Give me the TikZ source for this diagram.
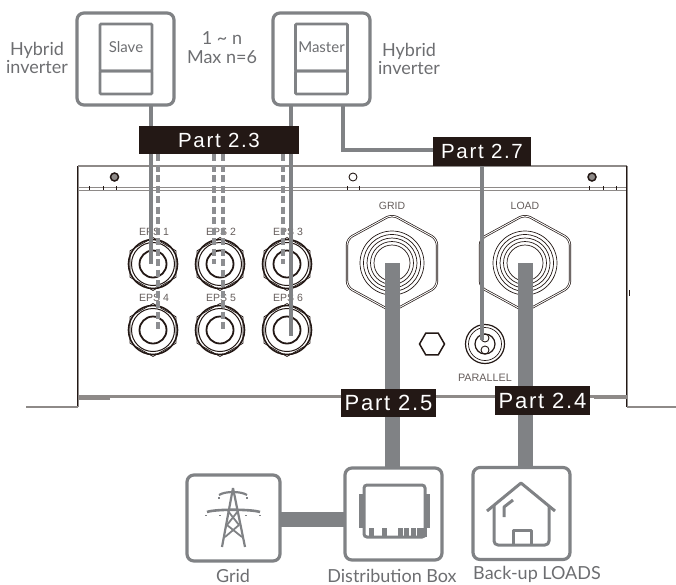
\documentclass[tikz,border=0pt]{standalone}
\usepackage{fontspec}
\setmainfont{Lato}
\newfontfamily\partfont[LetterSpace=8]{Liberation Sans}
\newfontfamily\panelfont{Liberation Sans}
\usepackage{xcolor}
\usepackage{tikz}
\usetikzlibrary{shapes.geometric,positioning,calc}
\definecolor{cablegray}{HTML}{808285}
\definecolor{textgray}{HTML}{6D6E71}
\definecolor{partblack}{HTML}{231815}
\definecolor{panelgray}{HTML}{8E8A88}
\begin{document}
\begin{tikzpicture}[
        x=1pt, y=-1pt,
        unitbox/.style={draw=cablegray, line width=3.2pt, rounded corners=7pt, inner sep=0pt, outer sep=0pt, minimum width=97pt, minimum height=92pt},
        screenbox/.style={draw=cablegray, line width=2.8pt, rounded corners=1pt, inner sep=0pt, outer sep=0pt, minimum width=52pt, text=textgray, font=\fontsize{15}{18}\selectfont},
        caption/.style={text=textgray, align=center, inner sep=0pt, font=\fontsize{18}{18}\selectfont},
        partlabel/.style={fill=partblack, text=white, inner sep=0pt, outer sep=0pt, font=\partfont\fontsize{20.5}{24}\selectfont},
        panellabel/.style={text=partblack!70, inner sep=0pt, font=\panelfont\fontsize{10.5}{12}\selectfont},
        wire/.style={draw=cablegray, line width=3.8pt},
        dashwire/.style={draw=cablegray!90, line width=3.6pt, dash pattern=on 7pt off 3.5pt},
        thinwire/.style={draw=cablegray, line width=3.4pt},
        power/.style={draw=cablegray, line width=15pt},
        frame/.style={draw=partblack, line width=0.7pt, double=panelgray, double distance=0.9pt},
        edge/.style={draw=panelgray, line width=2.5pt},
        ring/.style={draw=partblack, line width=0.7pt},
        iconline/.style={draw=cablegray, line width=3pt, line join=round},
        eps/.style={circle, draw=partblack, line width=1.6pt, minimum size=49pt, inner sep=0pt}
    ]
        \useasboundingbox (0,0) rectangle (676,584);

        % Metal enclosure
        \draw[edge] (78,166) -- (627,166);
        \draw[edge, line width=1.8pt] (78,187.5) -- (627,187.5);
        \draw[draw=panelgray, line width=1pt] (78,190.5) -- (627,190.5);
        \draw[frame] (78,166) -- (78,407);
        \draw[frame] (627,166) -- (627,407);
        \draw[edge] (78,396.5) -- (627,396.5);
        \draw[edge] (78,398.5) -- (110,398.5);
        \draw[edge] (594,398) -- (627,398);
        \draw[edge] (26,407) -- (78,407);
        \draw[edge] (627,407) -- (676,407);
        \draw[draw=partblack, line width=1.2pt] (629.5,290) -- (629.5,296);
        \foreach \xtick in {89,103,116,347,359,589,603,616}
            \draw[draw=partblack, line width=0.7pt] (\xtick,186) -- (\xtick,190);

        % Screws on the top strip
        \node[circle, draw=partblack, fill=panelgray, line width=1.5pt, minimum size=8pt, inner sep=0pt] (screwa) at (114.5,177) {};
        \node[circle, draw=partblack, line width=0.9pt, minimum size=8pt, inner sep=0pt] (screwb) at (353,177) {};
        \node[circle, draw=partblack, fill=panelgray, line width=1.5pt, minimum size=8pt, inner sep=0pt] (screwc) at (592,177) {};

        % EPS glands
        \foreach \n/\xpos/\ypos in {1/153/264, 2/220/264, 3/287/264, 4/153/330, 5/220/330, 6/287/330} {
            \node[eps] (eps\n) at (\xpos,\ypos) {};
            \draw[ring, line width=1pt] (eps\n) circle (21.5pt);
            \draw[ring, line width=1.8pt] (eps\n) circle (13.5pt);
            \node[regular polygon, regular polygon sides=6, shape border rotate=30, ring, minimum size=53pt, inner sep=0pt] (epsnut\n) at (\xpos,\ypos) {};
            \node[panellabel] (epslabel\n) at (\xpos+1,\ypos-32) {EPS \n};
        }

        % AC glands
        \foreach \name/\xpos/\tag in {grid/392/GRID, load/525/LOAD} {
            \node[circle, ring, minimum size=64pt, inner sep=0pt] (\name) at (\xpos,263) {};
            \foreach \r in {28.5,25,21.5,18}
                \draw[ring] (\name) circle (\r pt);
            \draw[ring, double=white, double distance=0.9pt, rounded corners=6pt]
                ([shift={(0,-48.5)}]\name.center) -- ([shift={(45,-24)}]\name.center) -- ([shift={(45,24)}]\name.center)
                -- ([shift={(0,48.5)}]\name.center) -- ([shift={(-45,24)}]\name.center) -- ([shift={(-45,-24)}]\name.center) -- cycle;
            \node[panellabel] (\name label) at (\xpos,206) {\tag};
        }

        % Plug and parallel port
        \node[regular polygon, regular polygon sides=6, draw=partblack, line width=1.5pt, minimum size=25pt, inner sep=0pt] (plug) at (432,344) {};
        \node[circle, draw=partblack, line width=1.2pt, minimum size=39pt, inner sep=0pt] (parallel) at (485,344) {};
        \draw[ring] (parallel) circle (16.5pt);
        \draw[ring, line width=1.2pt] (parallel) circle (10pt);
        \node[circle, ring, line width=0.9pt, minimum size=8pt, inner sep=0pt] (parporta) at (485,338) {};
        \node[circle, ring, line width=0.9pt, minimum size=8pt, inner sep=0pt] (parportb) at (485,350) {};
        \node[panellabel, font=\panelfont\fontsize{10.8}{12}\selectfont] (parallellabel) at (485,378) {PARALLEL};

        % Inverters
        \node[unitbox] (slave) at (125.5,59) {};
        \node[screenbox, minimum height=47pt] (slavetop) at (126,47.5) {Slave};
        \node[screenbox, minimum height=23pt] (slavebottom) [below=0pt of slavetop] {};
        \node[unitbox] (master) at (321.5,59) {};
        \node[screenbox, minimum height=47pt] (mastertop) at (321.5,47.5) {Master};
        \node[screenbox, minimum height=23pt] (masterbottom) [below=0pt of mastertop] {};
        \node[caption] (slavecap) at (37,58) {Hybrid\\inverter};
        \node[caption] (mastercap) at (409,59) {Hybrid\\inverter};
        \node[caption, font=\fontsize{18}{19}\selectfont] (count) at (222,47.5) {1 \textasciitilde{} n\\Max n=6};

        % Bottom boxes
        \node[unitbox, minimum width=93pt, minimum height=86pt] (gridbox) at (233.5,518) {};
        \node[unitbox, minimum height=92pt] (distbox) at (393.5,514) {};
        \node[unitbox, minimum height=92pt] (loadbox) at (521.5,513.5) {};
        \node[caption] (gridcap) at (233,576) {Grid};
        \node[caption] (distcap) at (392,576) {Distribution Box};
        \node[caption] (loadcap) at (537,574) {Back-up LOADS};

        % Tower icon
        \draw[iconline, line width=2.2pt] (233,488) -- (222,547) (233,488) -- (245,547);
        \draw[iconline, line width=1.8pt] (228,511) -- (239,525) -- (225,537) (238,511) -- (227,525) -- (242,537);
        \draw[iconline, line width=2.2pt] (219,495) .. controls (225,491) and (241,491) .. (247,495);
        \draw[iconline, line width=2.6pt] (207,512) .. controls (215,509) and (251,509) .. (260,512);
        \draw[iconline, line width=2.2pt] (219,497) -- (219,499) (247,497) -- (247,499) (206,515) -- (206,516) (220,515) -- (220,516) (246,515) -- (246,516) (260,515) -- (260,516);

        % Distribution box icon
        \node[draw=cablegray, line width=3pt, rounded corners=3pt, minimum width=61pt, minimum height=52pt, inner sep=0pt] (breaker) at (394.5,511) {};
        \draw[iconline, line width=3.4pt] (breaker.west |- 0,494) ++(-1.5,0) -- ++(0,34);
        \draw[iconline, line width=3.4pt] (breaker.east |- 0,494) ++(1.5,0) -- ++(0,34);
        \foreach \xpos in {371,384,400,406.5,413,419,424}
            \fill[cablegray] (\xpos-2.5,528) rectangle (\xpos+2.5,537);

        % House icon
        \draw[iconline] (487,511) -- (521,483) -- (555,511);
        \draw[iconline, rounded corners=4pt] (494,506) -- (494,545) -- (549,545) -- (549,506);
        \draw[iconline] (513,545) -- (513,530) -- (531,530) -- (531,545);
        \draw[iconline] (504,517) -- (504,507) -- (513,500);

        % Cables from the inverters
        \coordinate (slaveport) at (151,106);
        \coordinate (masterport) at (291,106);
        \coordinate (linkport) at (343,106);
        \draw[wire] (slaveport) -- (151,264);
        \draw[wire] (masterport) -- (291,336);
        \draw[dashwire] (158,154) -- (158,332);
        \draw[dashwire] (214,154) -- (214,264);
        \draw[dashwire] (223,154) -- (223,330);
        \draw[dashwire] (283,154) -- (283,264);
        \draw[thinwire] (linkport) -- (343,150) -- (433,150);
        \draw[thinwire] (482,166) -- (482,340);

        % Power cables
        \draw[power] (grid.center) -- (grid.center |- distbox.north);
        \draw[power] (load.center) -- (load.center |- loadbox.north);
        \draw[power] (gridbox.east |- 0,519) -- (distbox.west |- 0,519);

        % Part labels
        \node[partlabel, minimum width=160pt, minimum height=28pt] (partb) at (219,140) {Part 2.3};
        \node[partlabel, minimum width=98pt, minimum height=29pt] (partc) at (482,151.5) {Part 2.7};
        \node[partlabel, minimum width=95pt, minimum height=28pt, font=\partfont\fontsize{22}{26}\selectfont] (partd) at (388.5,403) {Part 2.5};
        \node[partlabel, minimum width=95pt, minimum height=29pt, font=\partfont\fontsize{22}{26}\selectfont] (parte) at (542.5,400.5) {Part 2.4};
    \end{tikzpicture}
\end{document}
